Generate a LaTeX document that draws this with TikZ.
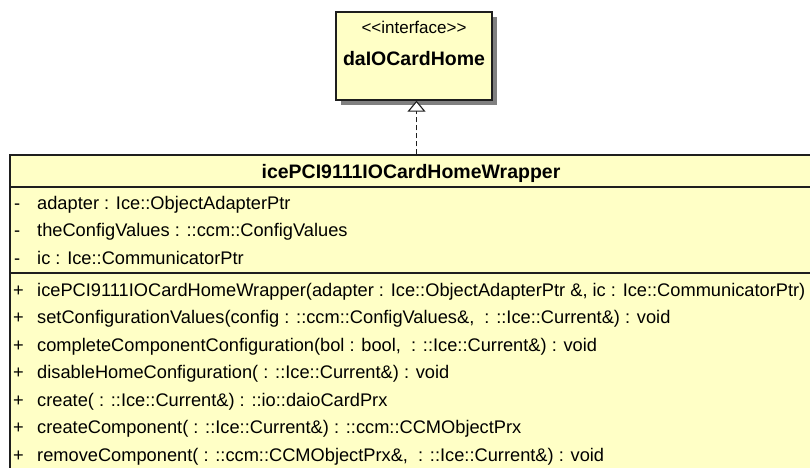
\documentclass[tikz,border=0pt]{standalone}
\usepackage{fontspec}
\setmainfont{Liberation Sans}
\usetikzlibrary{arrows.meta}
\definecolor{umlfill}{RGB}{255,255,198}
\definecolor{umlshadow}{RGB}{128,128,128}
\definecolor{umlline}{RGB}{30,30,30}
\tikzset{
  classbox/.style={draw=umlline, line width=1.3pt, fill=umlfill, inner sep=0pt},
  rowtext/.style={anchor=base west, inner sep=0pt, font=\fontsize{18.25}{20}\selectfont},
  marktext/.style={anchor=base west, inner sep=0pt, font=\fontsize{18.25}{20}\selectfont},
  titletext/.style={anchor=base, inner sep=0pt, font=\fontsize{19.5}{21}\selectfont\bfseries},
  stereotext/.style={anchor=base, inner sep=0pt, font=\fontsize{17}{19}\selectfont},
  sepline/.style={draw=umlline, line width=1.3pt},
  realize/.style={draw=umlline, line width=1.3pt, dash pattern=on 5pt off 3pt,
     -{Triangle[open, length=11pt, width=18pt, fill=white, line width=1.1pt]}}
}
\begin{document}
\begin{tikzpicture}[x=1pt, y=-1pt]
\useasboundingbox (0,0) rectangle (810,467);
\clip (0,0) rectangle (810,467);
% interface box
\fill[umlshadow] (341,17) rectangle (497,105);
\node[classbox, minimum width=156pt, minimum height=88pt] (iface) at (414,56) {};
\node[stereotext] (stereo) at (414,33) {{<}{<}interface{>}{>}};
\node[titletext] (ifname) at (414,65) {daIOCardHome};
% main class box
\node[classbox, minimum width=804pt, minimum height=330pt] (main) at (412,320) {};
\node[titletext] (title) at (411,178) {icePCI9111IOCardHomeWrapper};
\draw[sepline] (main.west |- 0,187) coordinate (s1l) -- (main.east |- 0,187) coordinate (s1r);
\draw[sepline] (main.west |- 0,273) coordinate (s2l) -- (main.east |- 0,273) coordinate (s2r);
% attributes
\node[marktext] (m1) at (14,209) {-};
\node[rowtext] (a1) at (37,209) {adapter : Ice::ObjectAdapterPtr};
\node[marktext] (m2) at (14,236.5) {-};
\node[rowtext] (a2) at (37,236.5) {theConfigValues : ::ccm::ConfigValues};
\node[marktext] (m3) at (14,264) {-};
\node[rowtext] (a3) at (37,264) {ic : Ice::CommunicatorPtr};
% operations
\node[marktext] (p1) at (13,296) {+};
\node[rowtext] (o1) at (37,296) {icePCI9111IOCardHomeWrapper(adapter : Ice::ObjectAdapterPtr \&, ic : Ice::CommunicatorPtr)};
\node[marktext] (p2) at (13,323.5) {+};
\node[rowtext] (o2) at (37,323.5) {setConfigurationValues(config : ::ccm::ConfigValues\&, \ : ::Ice::Current\&) : void};
\node[marktext] (p3) at (13,351) {+};
\node[rowtext] (o3) at (37,351) {completeComponentConfiguration(bol : bool, \ : ::Ice::Current\&) : void};
\node[marktext] (p4) at (13,378.5) {+};
\node[rowtext] (o4) at (37,378.5) {disableHomeConfiguration( : ::Ice::Current\&) : void};
\node[marktext] (p5) at (13,406) {+};
\node[rowtext] (o5) at (37,406) {create( : ::Ice::Current\&) : ::io::daioCardPrx};
\node[marktext] (p6) at (13,433.5) {+};
\node[rowtext] (o6) at (37,433.5) {createComponent( : ::Ice::Current\&) : ::ccm::CCMObjectPrx};
\node[marktext] (p7) at (13,461) {+};
\node[rowtext] (o7) at (37,461) {removeComponent( : ::ccm::CCMObjectPrx\&, \ : ::Ice::Current\&) : void};
% realization
\coordinate (ax) at (416.5,0);
\draw[realize] (main.north -| ax) -- (iface.south -| ax);
\end{tikzpicture}
\end{document}
